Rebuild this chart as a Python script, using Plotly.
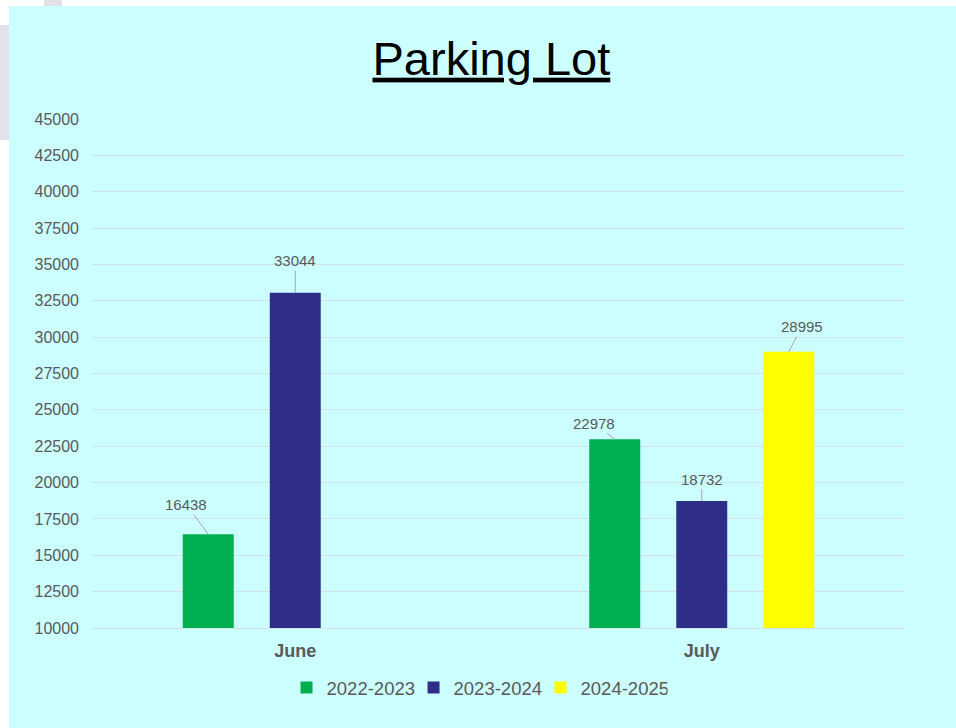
import plotly.graph_objects as go

# ---- data ----
categories = ["June", "July"]
series_names = ["2022-2023", "2023-2024", "2024-2025"]
values_2022_2023 = [16438, 22978]
values_2023_2024 = [33044, 18732]
values_2024_2025 = [None, 28995]
y_tick_values = list(range(10000, 45001, 2500))

series_values = [values_2022_2023, values_2023_2024, values_2024_2025]
colors = ["#00B050", "#2E2D87", "#FFFF00"]

# label offsets (pixels) for the data-label leader lines: [series][category]
label_offsets = [
    [(-22, -30), (-21, -16)],
    [(0, -32), (0, -22)],
    [(0, -25), (13, -25)],
]

FONT = "Liberation Sans, Arial, sans-serif"
GREY = "#595959"
BARGAP = 0.358
W, H = 956, 728
ML, MR, MT, MB = 92, 51, 119, 100

fig = go.Figure()
for name, vals, col in zip(series_names, series_values, colors):
    fig.add_trace(go.Bar(
        name=name, x=categories, y=vals,
        marker=dict(color=col, line=dict(width=0)),
        hoverinfo="skip",
    ))

# data labels with leader lines
n = len(series_names)
slot = (1 - BARGAP) / n
annotations = []
for si, vals in enumerate(series_values):
    for ci, v in enumerate(vals):
        if v is None:
            continue
        ax, ay = label_offsets[si][ci]
        annotations.append(dict(
            x=ci + (si - (n - 1) / 2) * slot, y=v, xref="x", yref="y",
            text=f"{v}", showarrow=True, arrowhead=0, arrowwidth=1,
            arrowcolor="#A6A6A6", standoff=0, startstandoff=0,
            ax=ax, ay=ay, font=dict(family=FONT, size=15, color=GREY),
        ))

# background edges (white page border at top/left with faint watermark bits)
pw, ph = W - ML - MR, H - MT - MB
def px_x(p):
    return (p - ML) / pw
def px_y(p):
    return (H - MB - p) / ph

shapes = [
    dict(type="rect", xref="paper", yref="paper", layer="below",
         x0=px_x(-2), x1=px_x(W + 2), y0=px_y(6), y1=px_y(-2),
         fillcolor="white", line=dict(width=0)),
    dict(type="rect", xref="paper", yref="paper", layer="below",
         x0=px_x(-2), x1=px_x(9), y0=px_y(H + 2), y1=px_y(-2),
         fillcolor="white", line=dict(width=0)),
    dict(type="rect", xref="paper", yref="paper", layer="below",
         x0=px_x(0), x1=px_x(9), y0=px_y(140), y1=px_y(25),
         fillcolor="#E2E2EA", line=dict(width=0)),
    dict(type="rect", xref="paper", yref="paper", layer="below",
         x0=px_x(44), x1=px_x(62), y0=px_y(6), y1=px_y(0),
         fillcolor="#E2E2EA", line=dict(width=0)),
]

fig.update_layout(
    width=W, height=H,
    margin=dict(l=ML, r=MR, t=MT, b=MB, pad=0, autoexpand=False),
    paper_bgcolor="#CCFFFF",
    plot_bgcolor="rgba(0,0,0,0)",
    barmode="group", bargap=BARGAP, bargroupgap=0.414,
    title=dict(text="<u>Parking Lot</u>", xref="container", yref="container",
               x=0.514, y=0.920, xanchor="center", yanchor="middle",
               font=dict(family=FONT, size=47, color="black")),
    font=dict(family=FONT, color=GREY),
    legend=dict(orientation="h", xref="container", yref="container",
                x=0.499, y=0.055, xanchor="center", yanchor="middle",
                font=dict(family=FONT, size=18.5, color=GREY),
                bgcolor="rgba(0,0,0,0)", itemwidth=30,
                entrywidth=82, entrywidthmode="pixels"),
    xaxis=dict(showgrid=False, showline=True, linecolor="#D0E2E2", linewidth=1,
               tickfont=dict(family=FONT, size=18, color=GREY, weight="bold"),
               ticks="", ticklabelstandoff=6, automargin=False),
    yaxis=dict(range=[10000, 45000], tickvals=y_tick_values, tickformat="d",
               showgrid=True, gridcolor="#D0E2E2", gridwidth=1,
               zeroline=False, showline=False,
               tickfont=dict(family=FONT, size=16, color=GREY),
               ticklabelstandoff=12, automargin=False),
    annotations=annotations,
    shapes=shapes,
    showlegend=True,
)

fig.write_html(
    "out.html",
    config={"displayModeBar": False},
    post_script="document.body.style.margin='0';document.body.style.overflow='hidden';",
)
